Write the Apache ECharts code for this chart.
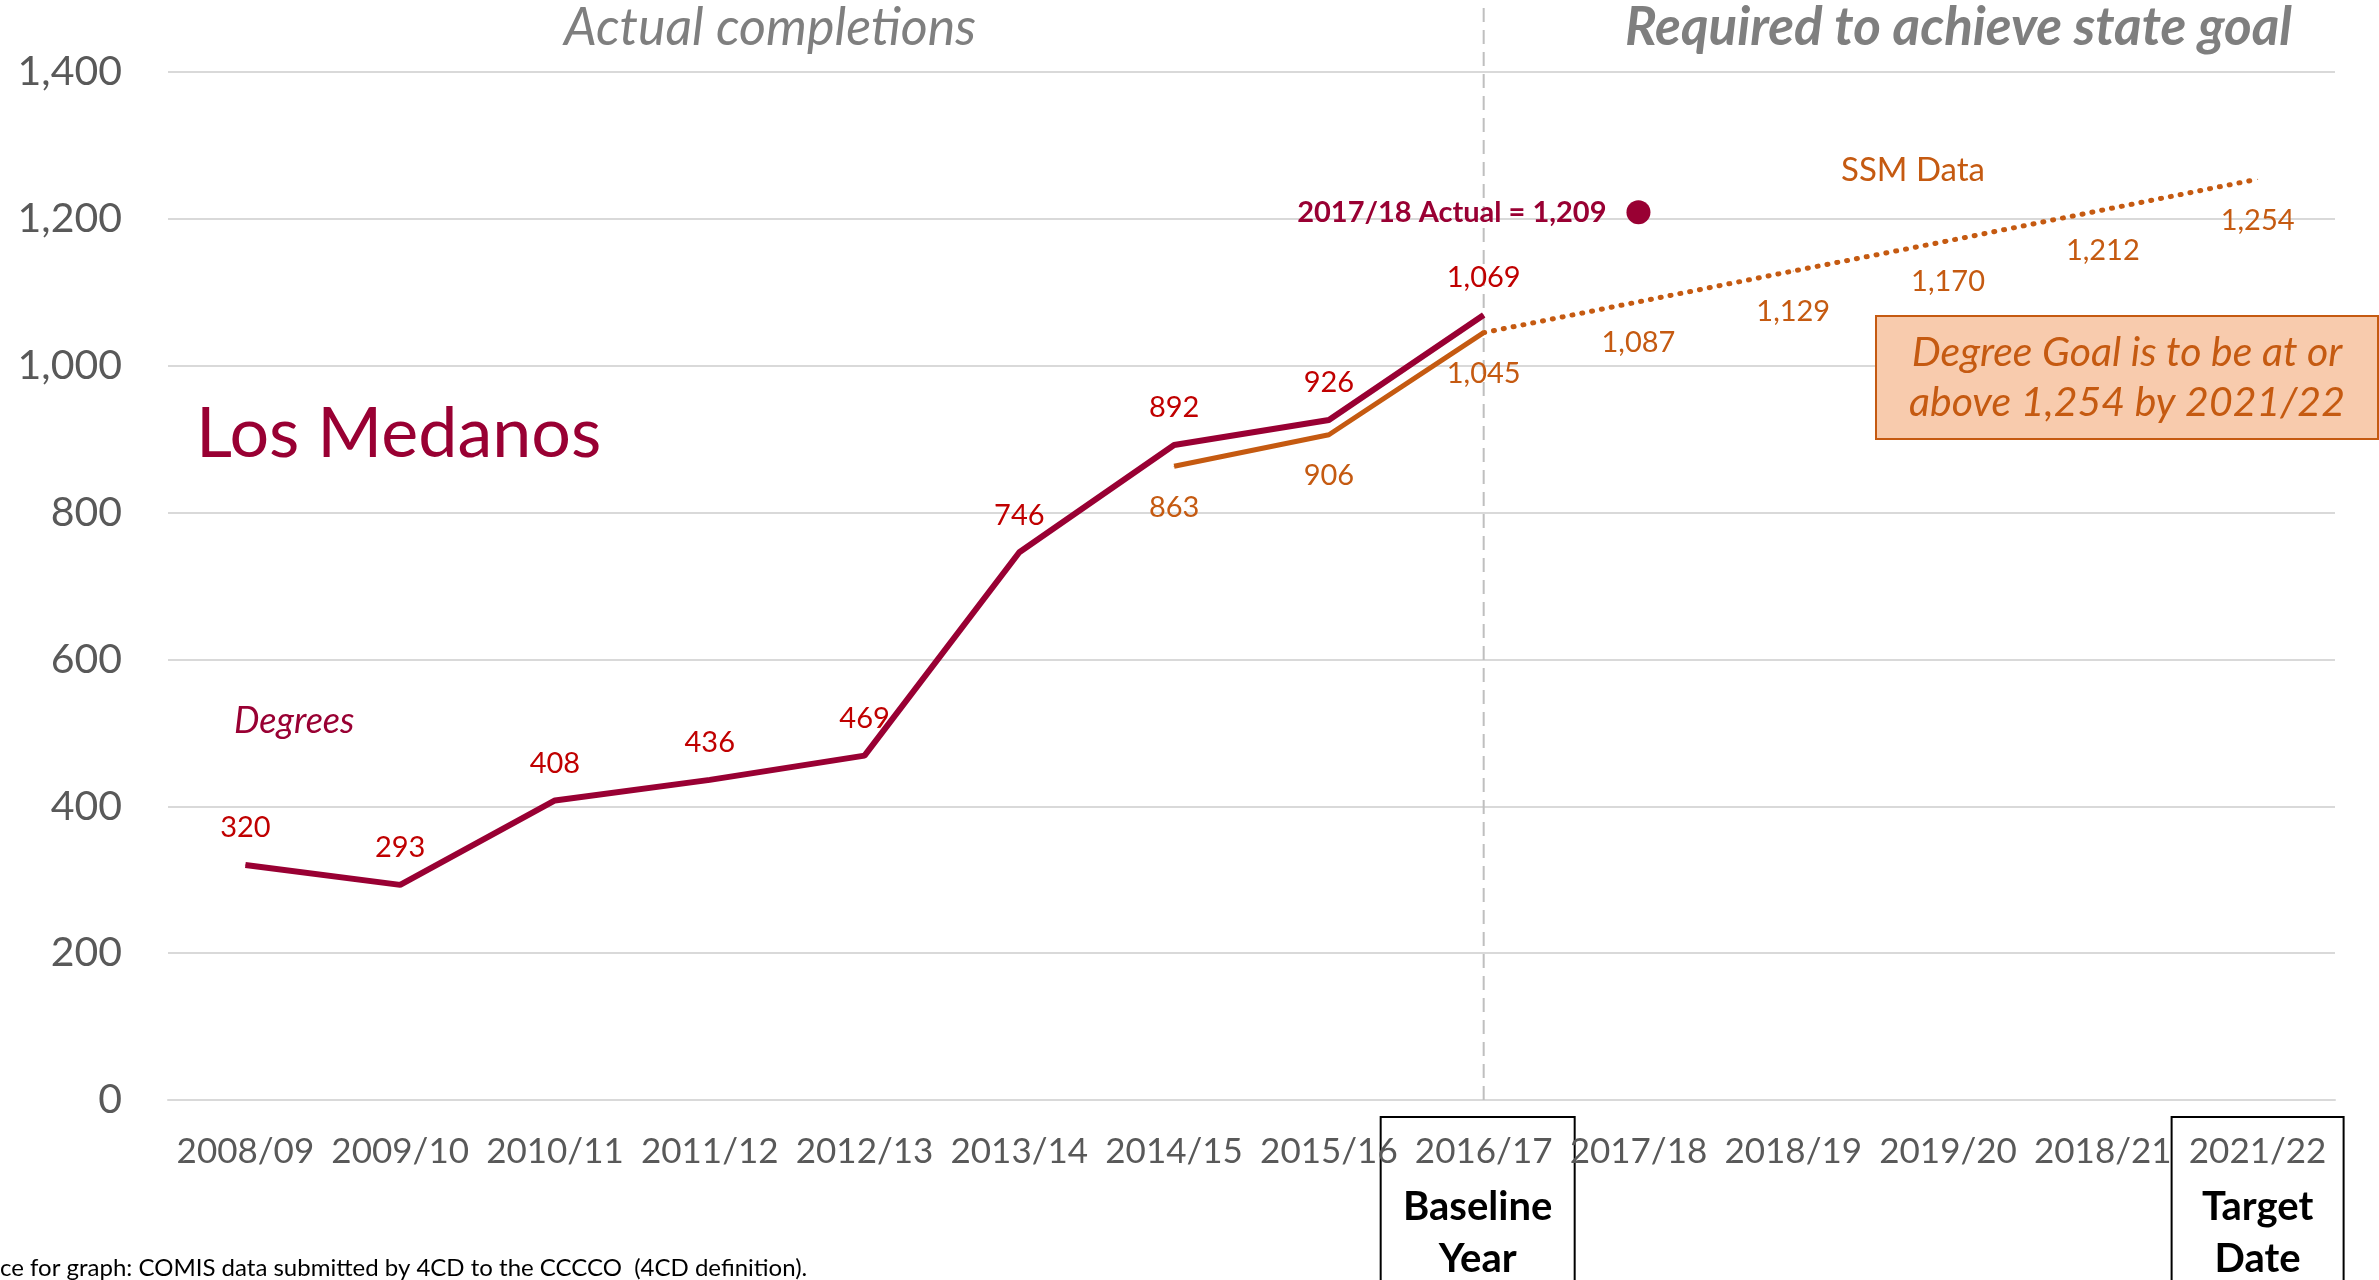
<!DOCTYPE html>
<html>
<head>
<meta charset="utf-8">
<script src="https://cdn.jsdelivr.net/npm/echarts@6/dist/echarts.min.js"></script>
<style>
html,body{margin:0;padding:0;background:#fff;}
#c{width:2379px;height:1280px;}
</style>
</head>
<body>
<div id="c"></div>
<script>
var categories = ['2008/09','2009/10','2010/11','2011/12','2012/13','2013/14','2014/15','2015/16','2016/17','2017/18','2018/19','2019/20','2018/21','2021/22'];
var degrees = [320, 293, 408, 436, 469, 746, 892, 926, 1069, null, null, null, null, null];
var ssmActual = [null, null, null, null, null, null, 863, 906, 1045, null, null, null, null, null];
var ssmRequired = [null, null, null, null, null, null, null, null, 1045, 1087, 1129, 1170, 1212, 1254];
var actual1718 = [['2017/18', 1209]];
var yTicks = [0, 200, 400, 600, 800, 1000, 1200, 1400];

var FONT = 'Lato';
var MAROON = '#990033';
var RED = '#C00000';
var ORANGE = '#C55A11';

function fmt(v){ return String(v).replace(/\B(?=(\d{3})+(?!\d))/g, ','); }

var chart = echarts.init(document.getElementById('c'));

var ssmReqData = ssmRequired.map(function(v, i){
  if (v === null) return null;
  if (i === 8) return {value: v, label: {show: false}};
  return v;
});

chart.setOption({
  animation: false,
  textStyle: {fontFamily: FONT},
  grid: {left: 168, right: 44, top: 72, bottom: 180},
  xAxis: {
    type: 'category',
    data: categories,
    boundaryGap: true,
    axisLine: {lineStyle: {color: '#D9D9D9', width: 2}},
    axisTick: {show: false},
    axisLabel: {color: '#595959', fontSize: 35, margin: 34, fontFamily: FONT, interval: 0},
    splitLine: {show: false}
  },
  yAxis: {
    type: 'value',
    min: yTicks[0],
    max: yTicks[yTicks.length - 1],
    interval: 200,
    axisLine: {show: false},
    axisTick: {show: false},
    axisLabel: {color: '#595959', fontSize: 41, margin: 46, fontFamily: FONT, formatter: function(v){ return fmt(v); }},
    splitLine: {lineStyle: {color: '#D9D9D9', width: 2}}
  },
  series: [
    {
      name: 'Degrees', type: 'line', data: degrees,
      symbol: 'circle', symbolSize: 1, showSymbol: true,
      itemStyle: {color: MAROON},
      lineStyle: {color: MAROON, width: 6},
      label: {show: true, position: 'top', distance: 22, color: RED, fontSize: 29, fontFamily: FONT, formatter: function(p){ return fmt(p.value); }},
      z: 3
    },
    {
      name: 'SSM', type: 'line', data: ssmActual,
      symbol: 'circle', symbolSize: 1, showSymbol: true,
      itemStyle: {color: ORANGE},
      lineStyle: {color: ORANGE, width: 5},
      label: {show: true, position: 'bottom', distance: 26, color: ORANGE, fontSize: 29, fontFamily: FONT, formatter: function(p){ return fmt(p.value); }},
      z: 2
    },
    {
      name: 'Required', type: 'line', data: ssmReqData,
      symbol: 'circle', symbolSize: 1, showSymbol: true,
      itemStyle: {color: ORANGE},
      lineStyle: {color: ORANGE, width: 5, type: [1, 9], cap: 'round'},
      label: {show: true, position: 'bottom', distance: 26, color: ORANGE, fontSize: 29, fontFamily: FONT, formatter: function(p){ return fmt(p.value); }},
      z: 2
    },
    {
      name: 'Actual 2017/18', type: 'scatter', data: actual1718,
      symbol: 'circle', symbolSize: 24,
      itemStyle: {color: MAROON, opacity: 1},
      label: {show: true, position: 'left', distance: 20, color: MAROON, fontSize: 29, fontWeight: 'bold', fontFamily: FONT,
        formatter: function(p){ return '2017/18 Actual = ' + fmt(p.value[1]); }},
      z: 4
    }
  ]
});

var xBase = chart.convertToPixel({xAxisIndex: 0}, '2016/17');
var xTarget = chart.convertToPixel({xAxisIndex: 0}, '2021/22');
var yZero = chart.convertToPixel({yAxisIndex: 0}, 0);

chart.setOption({
  graphic: [
    {type: 'line', shape: {x1: xBase, y1: 8, x2: xBase, y2: yZero}, style: {stroke: '#BFBFBF', lineWidth: 2, lineDash: [14, 8]}, z: 1},
    {type: 'text', style: {text: 'Actual completions', x: 770, y: 28, textAlign: 'center', textVerticalAlign: 'middle', fill: '#7F7F7F', font: 'italic 52px ' + FONT}},
    {type: 'text', style: {text: 'Required to achieve state goal', x: 2292, y: 28, textAlign: 'right', textVerticalAlign: 'middle', fill: '#7F7F7F', font: 'italic bold 53px ' + FONT}},
    {type: 'text', style: {text: 'Los Medanos', x: 196, y: 434, textAlign: 'left', textVerticalAlign: 'middle', fill: MAROON, font: '70px ' + FONT}},
    {type: 'text', style: {text: 'Degrees', x: 234, y: 721, textAlign: 'left', textVerticalAlign: 'middle', fill: MAROON, font: 'italic 36px ' + FONT}},
    {type: 'text', style: {text: 'SSM Data', x: 1841, y: 170, textAlign: 'left', textVerticalAlign: 'middle', fill: ORANGE, font: '33px ' + FONT}},
    {type: 'rect', shape: {x: 1876, y: 316, width: 502, height: 123}, style: {fill: '#F8CBAD', stroke: ORANGE, lineWidth: 2}},
    {type: 'text', style: {text: 'Degree Goal is to be at or', x: 2127, y: 353, textAlign: 'center', textVerticalAlign: 'middle', fill: ORANGE, font: 'italic 41px ' + FONT}},
    {type: 'text', style: {text: 'above 1,254 by 2021/22', x: 2127, y: 403, textAlign: 'center', textVerticalAlign: 'middle', fill: ORANGE, font: 'italic 41px ' + FONT}},
    {type: 'rect', shape: {x: xBase - 103, y: 1117, width: 194, height: 200}, style: {fill: 'none', stroke: '#000', lineWidth: 2}},
    {type: 'text', style: {text: 'Baseline', x: xBase - 6, y: 1207, textAlign: 'center', textVerticalAlign: 'middle', fill: '#000', font: 'bold 40px ' + FONT}},
    {type: 'text', style: {text: 'Year', x: xBase - 6, y: 1259, textAlign: 'center', textVerticalAlign: 'middle', fill: '#000', font: 'bold 40px ' + FONT}},
    {type: 'rect', shape: {x: xTarget - 86, y: 1117, width: 172, height: 200}, style: {fill: 'none', stroke: '#000', lineWidth: 2}},
    {type: 'text', style: {text: 'Target', x: xTarget, y: 1207, textAlign: 'center', textVerticalAlign: 'middle', fill: '#000', font: 'bold 40px ' + FONT}},
    {type: 'text', style: {text: 'Date', x: xTarget, y: 1259, textAlign: 'center', textVerticalAlign: 'middle', fill: '#000', font: 'bold 40px ' + FONT}},
    {type: 'text', style: {text: 'ce for graph: COMIS data submitted by 4CD to the CCCCO  (4CD definition).', x: 0, y: 1268, textAlign: 'left', textVerticalAlign: 'middle', fill: '#000', font: '24px ' + FONT}}
  ]
});
</script>
</body>
</html>
